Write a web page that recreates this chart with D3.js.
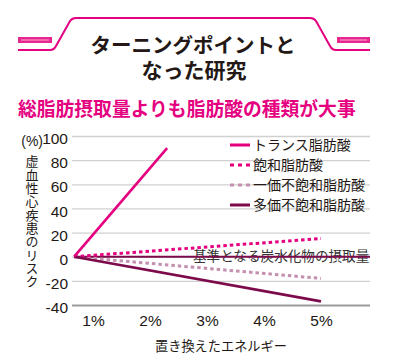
<!DOCTYPE html>
<html><head><meta charset="utf-8">
<script src="https://cdn.jsdelivr.net/npm/d3@7"></script>
<style>
body{margin:0;background:#fff;}
svg{display:block;}
text{font-family:"Noto Sans CJK JP","Noto Sans",sans-serif;}
.num{font-family:"Liberation Sans",Arial,sans-serif;}
</style></head><body>
<svg id="c" width="400" height="355"></svg>
<script>
// ---- data ----
const titleLines = ["ターニングポイントと", "なった研究"];
const subtitle = "総脂肪摂取量よりも脂肪酸の種類が大事";
const seriesNames = ["トランス脂肪酸", "飽和脂肪酸", "一価不飽和脂肪酸", "多価不飽和脂肪酸"];
const transX = [0.67, 2.3];
const transY = [0, 90];
const satX = [0.67, 5];
const satY = [0, 15];
const monoX = [0.67, 5];
const monoY = [0, -18];
const polyX = [0.67, 5];
const polyY = [0, -37];
const refX = [0.67, 5.86];
const refY = [0, 0];
const refLabel = "基準となる炭水化物の摂取量";
const xTicks = [1, 2, 3, 4, 5];
const yTicks = [100, 80, 60, 40, 20, 0, -20, -40];
const yTitle = "虚血性心疾患のリスク";
const xTitle = "置き換えたエネルギー";

// ---- styles ----
const MAG = "#e4007f", MONO = "#c490b0", POLY = "#7d0a4b", TXT = "#231815";
const seriesStyles = [
  {color: MAG, dash: null, w: 2.6},
  {color: MAG, dash: "3.5,3", w: 3},
  {color: MONO, dash: "3.5,3", w: 3},
  {color: POLY, dash: null, w: 2.6}
];

const svg = d3.select("#c");
const x = d3.scaleLinear().domain([1, 5]).range([93, 321]);
const y = d3.scaleLinear().domain([-40, 100]).range([305, 136]);

// ---- title frame ----
const fr = svg.append("g");
fr.append("path")
  .attr("d", "M18,50 L50,50 Q54,50 56,46 L70,21 Q72,18 76,18 L310,18 Q314,18 316,21 L330,46 Q332,50 336,50 L370,50")
  .attr("fill", "none").attr("stroke", MAG).attr("stroke-width", 2);
[[18, 52], [337, 370]].forEach(([a, b]) => {
  fr.append("rect").attr("x", a).attr("y", 37).attr("width", b - a).attr("height", 6)
    .attr("fill", MAG).attr("opacity", 0.85);
  fr.append("rect").attr("x", a + 3).attr("y", 39).attr("width", b - a - 6).attr("height", 2)
    .attr("fill", "#f07ab6").attr("opacity", 0.8);
});
const tt = svg.append("text").attr("text-anchor", "middle").attr("font-weight", "bold").attr("fill", TXT);
tt.append("tspan").attr("x", 193).attr("y", 53).attr("font-size", 20.5).text(titleLines[0]);
tt.append("tspan").attr("x", 194).attr("y", 78).attr("font-size", 21).text(titleLines[1]);

svg.append("text").attr("x", 18).attr("y", 116).attr("font-size", 18.8)
  .attr("font-weight", "bold").attr("fill", MAG).text(subtitle);

// ---- y axis / gridlines ----
const yAx = svg.append("g").attr("transform", "translate(72,0)")
  .call(d3.axisLeft(y).tickValues(yTicks).tickSize(-(370 - 72)).tickPadding(4).tickFormat(d => d));
yAx.select(".domain").remove();
yAx.selectAll(".tick line").attr("stroke", d => d === -40 ? "#9a9a9a" : "#d0d0d0")
  .attr("stroke-width", d => d === -40 ? 2 : 1.3);
yAx.selectAll(".tick text").attr("class", "num").attr("font-size", 15.5).attr("fill", TXT)
  .attr("dy", "0.62em").attr("y", -2);
svg.append("text").attr("class", "num").attr("x", 43).attr("y", 146).attr("text-anchor", "end")
  .attr("font-size", 14).attr("fill", TXT).text("(%)");

// y title vertical (single text, vertical writing mode)
svg.append("text").attr("x", 32).attr("y", 155)
  .style("writing-mode", "vertical-rl").style("glyph-orientation-vertical", "0")
  .attr("font-size", 13).attr("letter-spacing", 0.3).attr("fill", TXT).text(yTitle);

// ---- x axis ----
const xAx = svg.append("g").attr("transform", "translate(0,305)")
  .call(d3.axisBottom(x).tickValues(xTicks).tickSize(0).tickPadding(10).tickFormat(d => d + "%"));
xAx.select(".domain").remove();
xAx.selectAll(".tick text").attr("class", "num").attr("font-size", 15.5).attr("fill", TXT);
svg.append("text").attr("x", 221).attr("y", 351).attr("text-anchor", "middle")
  .attr("font-size", 13.2).attr("fill", TXT).text(xTitle);

// ---- reference ----
svg.append("text").attr("x", 193).attr("y", 261).attr("font-size", 13.6).attr("fill", "#333").text(refLabel);
const line = d3.line().x(d => x(d[0])).y(d => y(d[1]));
svg.append("path").datum(d3.zip(refX, refY)).attr("d", line)
  .attr("fill", "none").attr("stroke", POLY).attr("stroke-width", 2);

// ---- series ----
const allSeries = [d3.zip(transX, transY), d3.zip(satX, satY), d3.zip(monoX, monoY), d3.zip(polyX, polyY)];
[2, 1, 3, 0].forEach(i => {
  const s = seriesStyles[i];
  svg.append("path").datum(allSeries[i]).attr("d", line).attr("fill", "none")
    .attr("stroke", s.color).attr("stroke-width", s.w)
    .attr("stroke-dasharray", s.dash).attr("stroke-linejoin", "round");
});

// ---- legend ----
const lg = svg.append("g");
seriesNames.forEach((n, i) => {
  const s = seriesStyles[i];
  const cy = 145 + i * 20;
  lg.append("line").attr("x1", 230).attr("x2", 250).attr("y1", cy).attr("y2", cy)
    .attr("stroke", s.color).attr("stroke-width", 3).attr("stroke-dasharray", s.dash ? "4,4" : null);
  lg.append("text").attr("x", 253).attr("y", cy + 5).attr("font-size", 14).attr("fill", TXT).text(n);
});
</script></body></html>
